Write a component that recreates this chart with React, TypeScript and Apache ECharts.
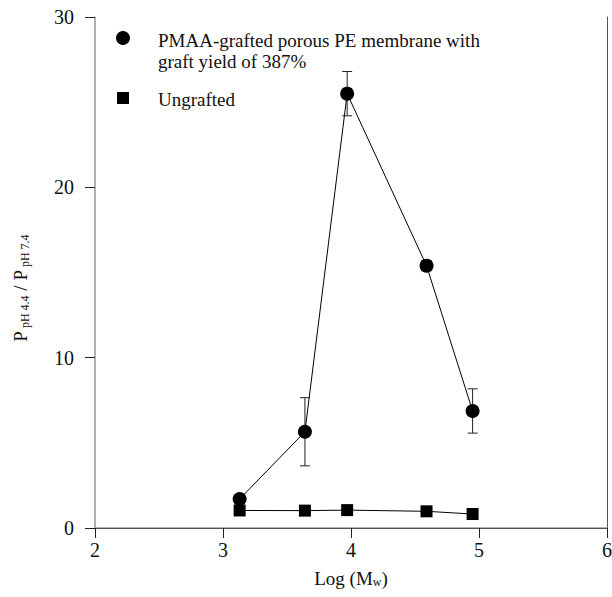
import React, { useEffect, useRef } from "react";
import * as echarts from "echarts";

const logMw = [3.13, 3.64, 3.97, 4.59, 4.95];
const graftedRatio = [1.7, 5.65, 25.5, 15.4, 6.87];
const graftedErr = [0.15, 2.0, 1.3, 0.3, 1.3];
const ungraftedRatio = [1.03, 1.02, 1.05, 0.98, 0.82];
const xTicks = [2, 3, 4, 5, 6];
const yTicks = [0, 10, 20, 30];

const FONT = "Liberation Serif";

export default function App() {
  const ref = useRef<HTMLDivElement>(null);
  useEffect(() => {
    if (!ref.current) return;
    const chart = echarts.init(ref.current, null, { renderer: "svg" });
    const grafted = logMw.map((x, i) => [x, graftedRatio[i]]);
    const ungrafted = logMw.map((x, i) => [x, ungraftedRatio[i]]);
    const errData = logMw.map((x, i) => [x, graftedRatio[i] - graftedErr[i], graftedRatio[i] + graftedErr[i]]);
    const xMin = xTicks[0];
    const xMax = xTicks[xTicks.length - 1];
    const yMin = yTicks[0];
    const yMax = yTicks[yTicks.length - 1];
    const frameAxis = {
      axisLine: { show: true, lineStyle: { color: "#555", width: 1 } },
      axisTick: { show: false },
      axisLabel: { show: false },
      splitLine: { show: false },
    };
    chart.setOption({
      animation: false,
      backgroundColor: "#fff",
      textStyle: { fontFamily: FONT },
      grid: { left: 95, right: 5, top: 17, bottom: 69, containLabel: false, outerBoundsMode: "none" },
      xAxis: [
        {
          type: "value",
          min: xMin,
          max: xMax,
          interval: 1,
          axisLine: { show: true, onZero: false, lineStyle: { color: "#999", width: 1.5 } },
          axisTick: { show: true, inside: false, length: 10, lineStyle: { color: "#222" } },
          splitLine: { show: false },
          axisLabel: { color: "#111", fontSize: 20, fontFamily: FONT, margin: 12 },
          name: "{a|Log (M}{s|w}{a|)}",
          nameLocation: "middle",
          nameGap: 40,
          nameTextStyle: {
            rich: {
              a: { fontSize: 19, fontFamily: FONT, color: "#111" },
              s: { fontSize: 12, fontFamily: FONT, color: "#111", padding: [8, 0, 0, 0] },
            },
          },
        },
        { type: "value", position: "top", min: xMin, max: xMax, interval: 1, ...frameAxis },
      ],
      yAxis: [
        {
          type: "value",
          min: yMin,
          max: yMax,
          interval: 10,
          axisLine: { show: true, onZero: false, lineStyle: { color: "#999", width: 1.5 } },
          axisTick: { show: true, inside: false, length: 10, lineStyle: { color: "#222" } },
          splitLine: { show: false },
          axisLabel: { color: "#111", fontSize: 20, fontFamily: FONT, margin: 21 },
        },
        { type: "value", position: "right", min: yMin, max: yMax, interval: 10, ...frameAxis },
      ],
      series: [
        {
          name: "errors",
          type: "custom",
          z: 1,
          data: errData,
          renderItem: (params: any, api: any) => {
            const x = api.value(0);
            const lo = api.coord([x, api.value(1)]);
            const hi = api.coord([x, api.value(2)]);
            const cap = 5;
            const style = { stroke: "#222", lineWidth: 1 };
            return {
              type: "group",
              children: [
                { type: "line", shape: { x1: lo[0], y1: lo[1], x2: hi[0], y2: hi[1] }, style },
                { type: "line", shape: { x1: lo[0] - cap, y1: lo[1], x2: lo[0] + cap, y2: lo[1] }, style },
                { type: "line", shape: { x1: hi[0] - cap, y1: hi[1], x2: hi[0] + cap, y2: hi[1] }, style },
              ],
            };
          },
        },
        {
          name: "Ungrafted",
          type: "line",
          z: 2,
          data: ungrafted,
          symbol: "rect",
          symbolSize: 12,
          itemStyle: { color: "#000" },
          lineStyle: { color: "#000", width: 1 },
        },
        {
          name: "PMAA-grafted porous PE membrane with graft yield of 387%",
          type: "line",
          z: 3,
          data: grafted,
          symbol: "circle",
          symbolSize: 14,
          itemStyle: { color: "#000" },
          lineStyle: { color: "#000", width: 1 },
        },
      ],
      graphic: [
        {
          type: "text",
          x: 20,
          y: 288,
          rotation: Math.PI / 2,
          style: {
            text: "{a|P}{s| pH 4.4}{a| / P}{s| pH 7.4}",
            align: "center",
            verticalAlign: "middle",
            rich: {
              a: { fontSize: 19, fontFamily: FONT, fill: "#111" },
              s: { fontSize: 12, fontFamily: FONT, fill: "#111", padding: [10, 0, 0, 0] },
            },
          },
        },
        { type: "circle", shape: { cx: 123, cy: 38, r: 7 }, style: { fill: "#000" } },
        {
          type: "text",
          x: 158,
          y: 30,
          style: {
            text: "PMAA-grafted porous PE membrane with\ngraft yield of 387%",
            font: `19px "${FONT}"`,
            fill: "#111",
            lineHeight: 21,
          },
        },
        { type: "rect", shape: { x: 117, y: 92, width: 12, height: 12 }, style: { fill: "#000" } },
        {
          type: "text",
          x: 158,
          y: 90,
          style: { text: "Ungrafted", font: `19px "${FONT}"`, fill: "#111" },
        },
      ],
    });
    return () => chart.dispose();
  }, []);
  return <div ref={ref} style={{ width: 612, height: 597, position: "absolute", left: 0, top: 0 }} />;
}
